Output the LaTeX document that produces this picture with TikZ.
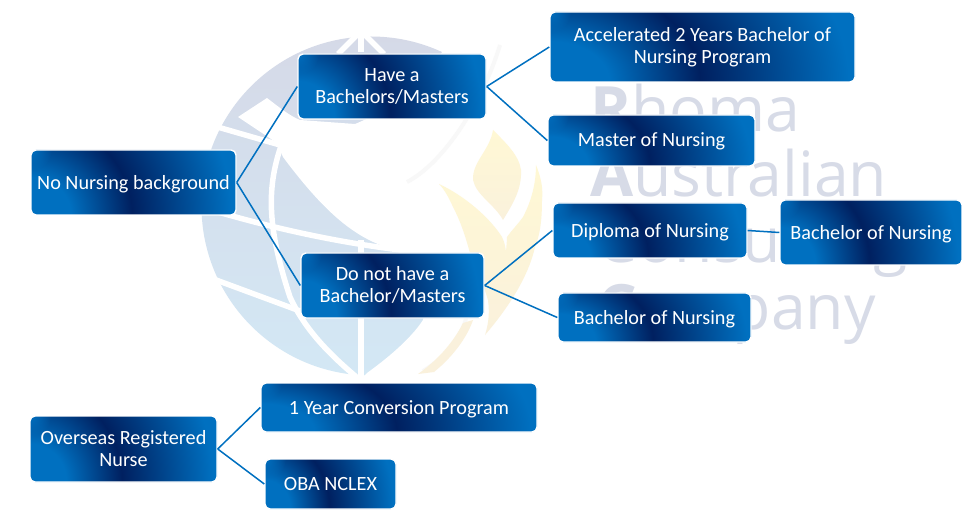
\documentclass[tikz,border=0pt]{standalone}
\usepackage{fontspec}
\setmainfont{Carlito}
\newfontfamily\wmfont{Open Sans}
\usetikzlibrary{calc,fadings}
\definecolor{rblue}{HTML}{0070C0}
\definecolor{rdark}{HTML}{002060}
\definecolor{wmgrey}{HTML}{D7DBE7}
\definecolor{globetop}{HTML}{D5D9E7}
\definecolor{globebot}{HTML}{D3E8F5}
\definecolor{flametop}{HTML}{FFF8D4}
\definecolor{flamebot}{HTML}{FAF1DC}
\definecolor{swoosh}{HTML}{F8F8F8}
\tikzfading[name=cornerfade, inner color=transparent!0, outer color=transparent!100]
\pgfdeclareradialshading{ringshade}{\pgfpointorigin}{color(0bp)=(rblue); color(4.5bp)=(rblue); color(11.4bp)=(rdark); color(22.7bp)=(rblue); color(50bp)=(rblue)}
\newcommand{\lowend}{\rule[-2pt]{0pt}{2pt}}
\tikzset{
  gbox/.style={draw=white, line width=1.4pt, rounded corners=5pt, inner sep=0pt, text=white, align=center,
    font=\fontsize{20.2}{22}\selectfont,
    path picture={\shade[shading=ringshade] let \p1=(path picture bounding box.south west),\p2=(path picture bounding box.north east),\n1={\x2-\x1},\n2={\y2-\y1} in
      (\x1-1.078*\n1,\y1-3.234*\n2) rectangle (\x1+1.078*\n1,\y1+3.234*\n2);
      \fill[rblue,path fading=cornerfade] (path picture bounding box.north west) circle (21);}},
  tdown/.style={text height=#1, text depth=4pt},
  link/.style={draw=rblue, line width=1.5pt},
  gline/.style={draw=white, line width=5.5pt},
  wm/.style={text=wmgrey, inner sep=0pt, anchor=base west, font=\wmfont\fontsize{62.5}{70}\selectfont},
}
\begin{document}
\begin{tikzpicture}[x=1pt,y=-1pt]
\useasboundingbox (0,0) rectangle (977,521);
\fill[white] (0,0) rectangle (977,521);
% watermark text
\node[wm] (wa) at (590,132) {\textbf{R}homa};
\node[wm] (wb) at (590,197) {\textbf{A}ustralian};
\node[wm] (wc) at (597,263) {\textbf{C}onsulting};
\node[wm] (wd) at (597,330) {\textbf{C}ompany};
% globe
\begin{scope}
\clip (371,206) circle (169.5);
\shade[top color=globetop,bottom color=globebot] (190,30) rectangle (560,380);
\end{scope}
% white swoosh cut out of the globe
\fill[white] (238,117) -- (267,98) .. controls (280,108) and (290,116) .. (300,120) -- (355,124)
  .. controls (390,110) and (420,85) .. (447,45) -- (560,30) -- (560,390) -- (350,390) -- (367,373)
  .. controls (385,360) and (410,340) .. (423,320) .. controls (430,295) and (420,265) .. (395,250)
  .. controls (360,240) and (330,220) .. (283,157) -- (277,143) -- cycle;
% globe grid lines
\draw[gline] (214,126) -- (280,145);
\draw[gline] (198,206) .. controls (250,222) and (320,240) .. (400,250);
\draw[gline] (208,277) -- (300,311);
\draw[gline] (281,146) .. controls (266,190) and (268,230) .. (290,297) .. controls (305,330) and (330,355) .. (360,380);
\draw[gline] (361,240) -- (361,380);
\draw[gline] (361,30) -- (361,52);
\draw[gline] (338,54) -- (358,34);
\draw[gline] (384,54) -- (364,34);
% faint swoosh
\draw[swoosh,line width=4pt] (407,182) .. controls (440,165) and (480,110) .. (500,45);
\draw[swoosh,line width=4pt] (423,371) .. controls (450,355) and (470,330) .. (467,300);
% flame
\shade[top color=flametop,bottom color=flamebot] (493,130) .. controls (490,150) and (472,162) .. (473,180)
  .. controls (476,195) and (495,205) .. (503,220) .. controls (512,205) and (522,190) .. (521,170)
  .. controls (519,155) and (505,142) .. cycle;
\shade[top color=flametop,bottom color=flamebot] (439,184) .. controls (465,196) and (490,218) .. (502,237)
  .. controls (505,243) and (506,249) .. (506,255) .. controls (506,248) and (507,242) .. (507,237)
  .. controls (512,230) and (518,224) .. (523,217) .. controls (532,200) and (536,182) .. (536,165)
  .. controls (542,180) and (543,190) .. (542,200) .. controls (542,220) and (540,235) .. (535,247)
  .. controls (530,270) and (515,300) .. (485,335) .. controls (488,325) and (490,315) .. (488,300)
  .. controls (482,280) and (475,265) .. (470,253) .. controls (465,235) and (460,220) .. (453,207)
  .. controls (450,200) and (445,190) .. cycle;
\fill[flamebot] (418,374) .. controls (435,362) and (452,345) .. (463,323) -- (473,320)
  .. controls (468,335) and (455,355) .. (434,372) -- cycle;
% boxes
\node[gbox,minimum width=205pt,minimum height=65pt,tdown=19pt] (nonurse) at (133.5,182.5) {No Nursing background};
\node[gbox,minimum width=188pt,minimum height=65pt] (have) at (392,86.5) {Have a\\Bachelors/Masters};
\node[gbox,minimum width=183pt,minimum height=65pt] (donot) at (392.5,285.5) {Do not have a\\Bachelor/Masters\lowend};
\node[gbox,minimum width=305pt,minimum height=70pt] (accel) at (702.5,47) {Accelerated 2 Years Bachelor of\\Nursing Program};
\node[gbox,minimum width=207pt,minimum height=51pt,tdown=16pt] (master) at (651.5,140.5) {Master of Nursing};
\node[gbox,minimum width=194pt,minimum height=55pt,tdown=19pt] (diploma) at (650,230.5) {Diploma of Nursing};
\node[gbox,minimum width=182pt,minimum height=65pt,tdown=18pt] (bachr) at (871,232.5) {Bachelor of Nursing};
\node[gbox,minimum width=193pt,minimum height=49pt,tdown=17pt] (bachl) at (654.5,317.5) {Bachelor of Nursing};
\node[gbox,minimum width=276pt,minimum height=49pt,tdown=17pt] (conv) at (399,407.5) {1 Year Conversion Program};
\node[gbox,minimum width=187pt,minimum height=66pt] (overseas) at (123.5,449) {Overseas Registered\\Nurse\lowend};
\node[gbox,minimum width=131pt,minimum height=50pt] (oba) at (330.5,484) {OBA NCLEX};
% connectors
\draw[link] (nonurse.east) -- (have.west);
\draw[link] (nonurse.east) -- (donot.west);
\draw[link] (have.east) -- (accel.west);
\draw[link] (have.east) -- (master.west);
\draw[link] (donot.east) -- (diploma.west);
\draw[link] (donot.east) -- (bachl.west);
\draw[link] (diploma.east) -- (bachr.west);
\draw[link] (overseas.east) -- (conv.west);
\draw[link] (overseas.east) -- (oba.west);
\end{tikzpicture}
\end{document}
